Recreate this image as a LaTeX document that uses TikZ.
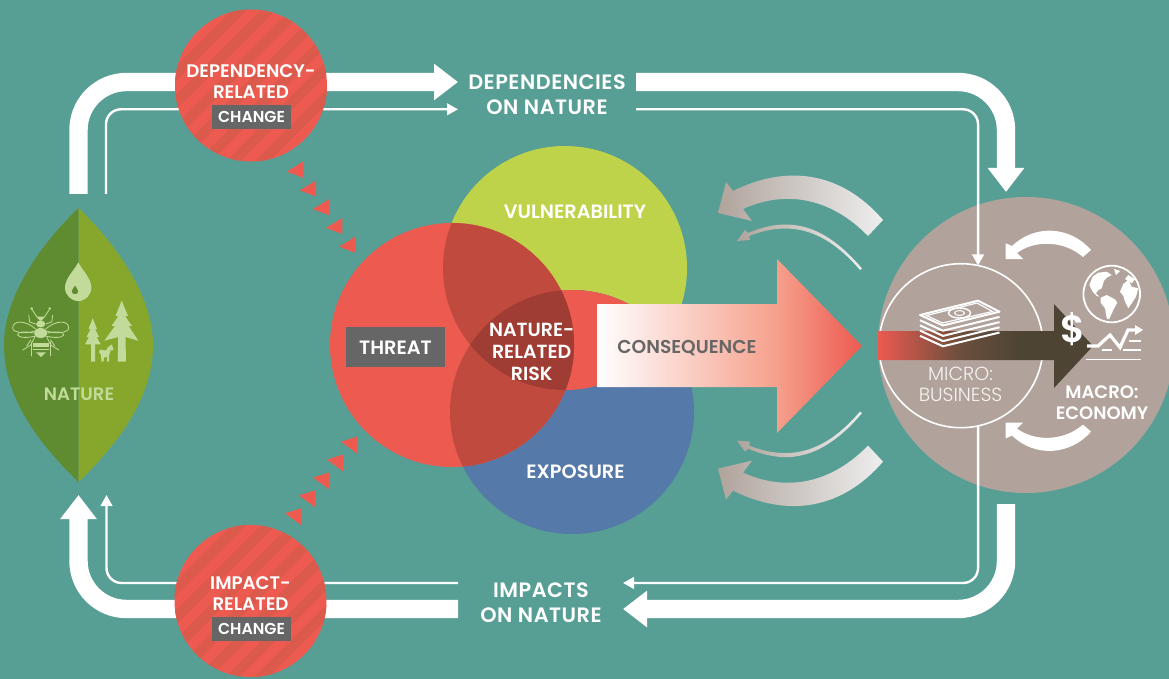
\documentclass[tikz,border=0pt]{standalone}
\usepackage{fontspec}
\setmainfont{Poppins}[UprightFont=* Medium,BoldFont=* SemiBold]
\newfontfamily\lightpop{Poppins Light}
\newfontfamily\semi{Poppins SemiBold}
\newfontfamily\semis{Poppins SemiBold}[LetterSpace=2.5]
\usetikzlibrary{arrows.meta,shapes.geometric}
\definecolor{cBg}{HTML}{579F95}
\definecolor{cRed}{HTML}{EC5A50}
\definecolor{cStripe}{HTML}{DB5A4C}
\definecolor{cDark1}{HTML}{BF4A3D}
\definecolor{cDark2}{HTML}{9F3C33}
\definecolor{cGreen}{HTML}{BED349}
\definecolor{cBlue}{HTML}{5579A8}
\definecolor{cGrey}{HTML}{666666}
\definecolor{cTaupe}{HTML}{B1A39B}
\definecolor{cLeafD}{HTML}{5F8C31}
\definecolor{cLeafL}{HTML}{87A72C}
\definecolor{cLeafT}{HTML}{C2DB9A}
\definecolor{cPink}{HTML}{F6A08C}
\definecolor{cBrown}{HTML}{6B4F3C}
\definecolor{cCoffee}{HTML}{4E4434}
\definecolor{cLightG}{HTML}{EEEEEE}
\definecolor{cShade}{HTML}{B0A49C}
\pgfdeclarehorizontalshading{bigred}{100bp}{color(0bp)=(white); color(25bp)=(white); color(58.9bp)=(cPink); color(75bp)=(cRed); color(100bp)=(cRed)}
\pgfdeclarehorizontalshading{darkarr}{100bp}{color(0bp)=(cRed); color(25bp)=(cRed); color(44bp)=(cBrown); color(58bp)=(cCoffee); color(100bp)=(cCoffee)}
\tikzset{
  bigline/.style={draw=white,line width=18.4pt,line cap=butt},
  thinline/.style={draw=white,line width=2.4pt,rounded corners=15pt},
  bigtip/.style={-{Triangle[length=24pt,width=35pt]}},
  thintip/.style={-{Triangle[length=11pt,width=11.5pt]}},
  redcirc/.style={circle,fill=cRed,minimum size=152pt,inner sep=0pt,outer sep=0pt},
  venn/.style={circle,minimum size=244pt,inner sep=0pt,outer sep=0pt},
  label/.style={text=white,align=center,inner sep=0pt,font=\semi\fontsize{19.3}{25}\selectfont},
  flowlabel/.style={text=white,align=center,inner sep=0pt,font=\semis\fontsize{20.8}{25}\selectfont},
  circlabel/.style={text=white,align=center,inner sep=0pt,font=\semi\fontsize{18.2}{21}\selectfont},
  tagbox/.style={fill=cGrey,text=white,inner sep=0pt,minimum width=79pt,minimum height=24pt,font=\semi\fontsize{15.8}{16}\selectfont},
  iconl/.style={draw=cLeafT,line width=.8pt,line cap=round,fill=none},
}
\newcommand{\stripes}[2]{%
  \begin{scope}
    \clip (#1,#2) circle [radius=76];
    \foreach \k in {-6,...,6}
      \draw[cStripe,line width=10pt] ({#1+\k*29-100},{#2+100}) -- ({#1+\k*29+100},{#2-100});
  \end{scope}}
\begin{document}
\begin{tikzpicture}[x=1pt,y=-1pt]
\useasboundingbox (0,0) rectangle (1169,679);
\fill[cBg] (0,0) rectangle (1169,679);

% free ends
\coordinate (natA) at (78.5,194);
\coordinate (natB) at (106,194);
\coordinate (natC) at (78.5,495);
\coordinate (natD) at (106.5,495);
\coordinate (depEndA) at (458,82);
\coordinate (depEndB) at (458,109.3);
\coordinate (depOutA) at (636,82);
\coordinate (depOutB) at (636,109.3);
\coordinate (macroIn) at (1006,192);
\coordinate (macroOut) at (1006,504);
\coordinate (impEndA) at (623,609);
\coordinate (impEndB) at (623,583);
\coordinate (impOutA) at (458,609);
\coordinate (impOutB) at (458,583);

% grey economy circle + micro circle
\node[circle,fill=cTaupe,minimum size=296pt,inner sep=0pt,outer sep=0pt] (macro) at (1026,345) {};
\node[circle,draw=white,line width=1.6pt,minimum size=164pt,inner sep=0pt,outer sep=0pt] (micro) at (961,345.7) {};

% connectors
\draw[bigline,bigtip,rounded corners=48pt] (natA) |- (depEndA);
\draw[thinline,thintip] (natB) |- (depEndB);
\draw[bigline,bigtip,rounded corners=48pt] (depOutA) -| (macroIn);
\draw[thinline,thintip] (depOutB) -| (micro.78.7);
\draw[bigline,bigtip,rounded corners=48pt] (macroOut) |- (impEndA);
\draw[thinline,thintip] (micro.-78.7) |- (impEndB);
\draw[bigline,bigtip,rounded corners=48pt] (impOutA) -| (natC);
\draw[thinline,thintip] (impOutB) -| (natD);

% red circles
\node[redcirc] (dep) at (251,85.5) {};
\stripes{251}{85.5}
\node[redcirc] (imp) at (250.5,601) {};
\stripes{250.5}{601}
\node[circlabel] (depText) at (251,82) {DEPENDENCY-\\RELATED};
\node[tagbox] (depTag) at (251.5,117) {CHANGE};
\node[circlabel] (impText) at (250.5,594) {IMPACT-\\RELATED};
\node[tagbox] (impTag) at (251.5,629.3) {CHANGE};

% small triangles
\foreach \i in {0,...,4} {
  \fill[cRed] ({286.7+13.1*\i},{171.7+18.75*\i}) -- ({303+13.1*\i},{161.7+18.75*\i}) -- ({303+13.1*\i},{177.7+18.75*\i}) -- cycle;
  \fill[cRed] ({285+14*\i},{513.3-17.9*\i}) -- ({301+14*\i},{508.3-17.9*\i}) -- ({301+14*\i},{525-17.9*\i}) -- cycle;
}

% venn
\node[venn,fill=cGreen] (vuln) at (565,268) {};
\node[venn,fill=cBlue] (expo) at (572,412) {};
\begin{scope}
  \clip (565,268) circle [radius=122];
  \fill[cRed] (572,412) circle [radius=122];
\end{scope}
\node[venn,fill=cRed] (threat) at (452,345) {};
\begin{scope}
  \clip (452,345) circle [radius=122];
  \fill[cDark1] (565,268) circle [radius=122];
  \fill[cDark1] (572,412) circle [radius=122];
  \clip (565,268) circle [radius=122];
  \fill[cDark2] (572,412) circle [radius=122];
\end{scope}

% big consequence arrow
\shade[shading=bigred] (597,304) -- (777,304) -- (777,259) -- (862,346) -- (777,433) -- (777,387) -- (597,387) -- cycle;

% labels
\node[label] (vulnText) at (575,211.5) {VULNERABILITY};
\node[label] (expoText) at (575.5,471.5) {EXPOSURE};
\node[fill=cGrey,minimum width=99pt,minimum height=40pt,inner sep=0pt] (threatBox) at (395.5,347) {};
\node[label] (threatText) at (395.5,348) {THREAT};
\node[text=white,align=center,inner sep=0pt,font=\semi\fontsize{19}{22}\selectfont] (riskText) at (531.7,351.5) {NATURE-\\RELATED\\RISK};
\node[label,text=cGrey,font=\semi\fontsize{18.6}{25}\selectfont] (consText) at (687,348.5) {CONSEQUENCE};
\node[flowlabel] (depLabel) at (547,94.5) {DEPENDENCIES\\ON NATURE};
\node[flowlabel] (impLabel) at (541,602.5) {IMPACTS\\ON NATURE};

% grey curved arrows (upper, then mirrored)
\foreach \m in {0,1} {
\begin{scope}[shift={(0,{\m*681.6})},yscale={1-2*\m}]
  \shade[left color=cShade,right color=cLightG] (718,213) -- (726,182) -- (733,191)
    .. controls (785,165) and (840,170) .. (883,220) -- (868,236)
    .. controls (830,197) and (785,190) .. (743,209) -- (752,221) -- cycle;
  \shade[left color=cShade,right color=cLightG] (737,241) -- (745,230) -- (748,233)
    .. controls (790,215) and (825,225) .. (862,268.5) -- (860,270)
    .. controls (825,229) and (790,220) .. (749,236) -- (750,240) -- cycle;
  % white cycle arrows
  \fill[white] (1005.7,243.3) -- (1005.7,259) -- (1023,259) -- (1017,253)
    .. controls (1033,241) and (1062,239) .. (1083,257) -- (1091,250)
    .. controls (1070,226) and (1035,224) .. (1012,246) -- cycle;
\end{scope}}

% dark arrow
\shade[shading=darkarr] (878,331) -- (1054,331) -- (1054,304) -- (1093,346) -- (1054,388) -- (1054,360) -- (878,360) -- cycle;

% money
\foreach \i in {4,3,...,1}
  \draw[white,line width=2pt,line join=round] (920,{315+\i*5.2}) -- (943,{325.5+\i*5.2}) -- (999.5,{311.7+\i*5.2});
\draw[white,line width=2pt,line join=round] (920,315) -- (978,300.7) -- (999.5,311.7) -- (943,325.5) -- cycle;
\draw[white,line width=1.2pt] (926.5,315.5) -- (977,303) -- (992.5,311.5) -- (942.5,323) -- cycle;
\draw[white,line width=1.4pt] (959.5,313) ellipse [x radius=11,y radius=5];
\draw[white,line width=1pt] (959.5,313) ellipse [x radius=5,y radius=2.5];

% globe
\draw[white,line width=1.8pt] (1111.7,294) circle [radius=28.3];
\fill[white] (1089.3,285) -- (1092.7,276.7) -- (1098.3,272.7) -- (1106.7,271.7) -- (1111.7,275) -- (1107.3,277.3) -- (1104,280.7) -- (1101.7,288.3) -- (1098.3,290) -- (1096,293.3) -- (1099.3,296.7) -- (1096.7,296) -- (1092.7,291.7) -- cycle;
\fill[white] (1100.7,297.7) -- (1106.7,295) -- (1115,299.3) -- (1117.3,302.7) -- (1113.3,310) -- (1109,319.3) -- (1106.7,318.3) -- (1105,308.3) -- (1100.7,302.7) -- cycle;
\fill[white] (1120,291.7) -- (1123.3,284) -- (1128.3,280) -- (1131.7,286.7) -- (1138.3,288.3) -- (1136,296.7) -- (1131.7,303.3) -- (1128.3,308.3) -- (1125,301.7) -- (1123.3,296) -- cycle;
\fill[white] (1125,279) -- (1128.3,275) -- (1135,279.3) -- (1131.7,283.3) -- cycle;
\fill[white] (1114,269) -- (1120,271) -- (1116,275) -- cycle;
\node[text=white,inner sep=0pt,font=\semi\fontsize{38}{38}\selectfont] (dollar) at (1073,329.5) {\$};

% chart
\draw[white,line width=3.2pt,line join=miter] (1087,346) -- (1098,346) -- (1110,335) -- (1120,347.5) -- (1128,330) -- (1137,330);
\fill[white] (1135,325) -- (1143,330) -- (1135,335) -- cycle;
\draw[white,line width=1.5pt] (1085.7,359.3) -- (1141,359.3);
\draw[white,line width=1.5pt] (1102,350) -- (1112,350) (1123,350) -- (1141,350) (1129,341) -- (1141,341);

\node[text=white!88!cTaupe,align=center,inner sep=0pt,font=\lightpop\fontsize{19}{21}\selectfont] (microText) at (960.5,384) {MICRO:\\BUSINESS};
\node[text=white,align=center,inner sep=0pt,font=\semi\fontsize{18}{21}\selectfont] (macroText) at (1102,403) {MACRO:\\ECONOMY};

% leaf
\fill[cLeafD] (78.5,208) .. controls (35,250) and (4,300) .. (4,345) .. controls (4,395) and (35,440) .. (78.5,482) -- cycle;
\fill[cLeafL] (78.5,208) .. controls (122,250) and (153,300) .. (153,345) .. controls (153,395) and (122,440) .. (78.5,482) -- cycle;
% drop
\fill[cLeafT] (78.3,262.3) .. controls (74,271) and (65,278) .. (65,287.7) .. controls (65,295) and (71,301) .. (78.3,301) .. controls (85.6,301) and (91.3,295) .. (91.3,287.7) .. controls (91.3,278) and (82.6,271) .. (78.3,262.3) -- cycle;
\fill[cLeafD] (75,285.5) .. controls (73.5,288) and (71.8,290) .. (71.8,291.5) .. controls (71.8,295) and (78.2,295) .. (78.2,291.5) .. controls (78.2,290) and (76.5,288) .. (75,285.5) -- cycle;
% bee
\fill[cLeafT] (40.7,333) ellipse [x radius=6.5,y radius=5];
\fill[cLeafT] (40.7,324) ellipse [x radius=4.5,y radius=3.5];
\fill[cLeafT] (37,316.5) -- (44.5,316.5) -- (42,320.5) -- (39.5,320.5) -- cycle;
\fill[cLeafT] (33.3,343.3) rectangle (49.3,346.7);
\fill[cLeafT] (36,352.3) -- (46,352.3) -- (41,357) -- cycle;
\foreach \s in {-1,1} {
  \draw[iconl] ({40.7+\s*3},318) -- ({40.7+\s*9},309);
  \fill[cLeafT] ({40.7+\s*9},308.5) circle [radius=1.4];
  \draw[iconl] ({40.7+\s*5},324) -- ({40.7+\s*11},322) -- ({40.7+\s*12},315);
  \draw[iconl] ({40.7+\s*5},329) .. controls ({40.7+\s*15},320) and ({40.7+\s*28},320) .. ({40.7+\s*28},328) .. controls ({40.7+\s*28},333) and ({40.7+\s*14},334) .. ({40.7+\s*6},331);
  \draw[iconl] ({40.7+\s*7},333) .. controls ({40.7+\s*16},331) and ({40.7+\s*24},332) .. ({40.7+\s*23},335) .. controls ({40.7+\s*22},338) and ({40.7+\s*12},338) .. ({40.7+\s*5},336);
  \draw[iconl] ({40.7+\s*6},337) -- ({40.7+\s*10},345) -- ({40.7+\s*18},350);
  \draw[iconl] ({40.7+\s*9.5},342) -- ({40.7+\s*9.5},356);
  \draw[iconl] ({40.7+\s*10},340) -- ({40.7+\s*14},346) ;
}
\draw[iconl] (33.3,349.5) -- (49,349.5);
% trees
\fill[cLeafT] (92.7,318.3) -- (97,329) -- (95,329) -- (99,337) -- (96.5,337) -- (100.7,344.3) -- (95,344.3) -- (95,361.7) -- (91,361.7) -- (91,344.3) -- (85,344.3) -- (89,337) -- (86.5,337) -- (90.5,329) -- (88.5,329) -- cycle;
\fill[cLeafT] (121.7,300.7) -- (128,316) -- (125,316) -- (132,326) -- (128.5,326) -- (138.3,340.7) -- (125.5,337) -- (126,361.7) -- (117.7,361.7) -- (118.2,337) -- (104.3,340.7) -- (115,326) -- (111.5,326) -- (118.5,316) -- (115.5,316) -- cycle;
% goat
\fill[cLeafT] (112,344.5) -- (113.5,350) -- (110.5,350.5) -- (109,356) -- (109,361.7) -- (107,361.7) -- (107,357) -- (104,357.5) -- (103.5,361.7) -- (101.5,361.7) -- (101,355) -- (99,352) -- (100,349.5) -- (106,350.5) -- (108,347) -- cycle;
\node[text=cLeafT,inner sep=0pt,font=\semi\fontsize{18}{18}\selectfont] (natText) at (79,394.5) {NATURE};
\end{tikzpicture}
\end{document}
